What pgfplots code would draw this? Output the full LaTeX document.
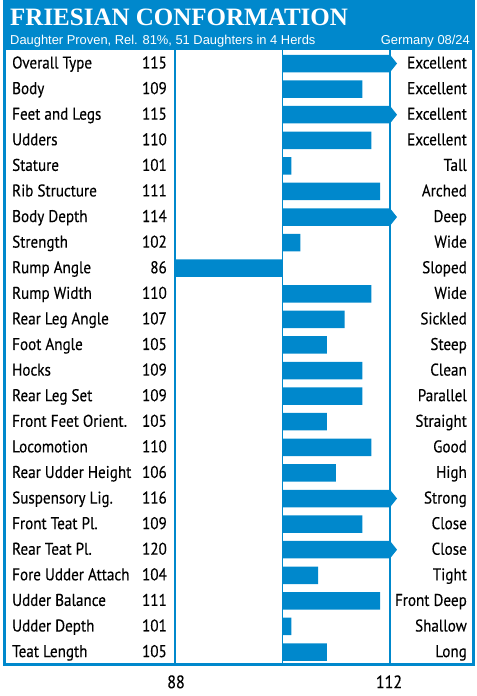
\documentclass[border=0pt]{standalone}
\usepackage{pgfplots}
\pgfplotsset{compat=1.18}
\usepackage{pgfplotstable}
\usepackage{fontspec}
\setmainfont{PT Sans}
\newfontfamily\rowfont[FakeStretch=0.89,FakeBold=0.3]{PT Sans}
\newfontfamily\titlefont{Liberation Serif}
\newfontfamily\subfont{Liberation Sans}
\definecolor{bb}{RGB}{0,136,204}
\pgfdeclareplotmark{rarrow}{%
  \pgfpathmoveto{\pgfpoint{0bp}{10bp}}%
  \pgfpathlineto{\pgfpoint{8bp}{0bp}}%
  \pgfpathlineto{\pgfpoint{0bp}{-10bp}}%
  \pgfpathclose\pgfusepathqfill}
\pgfplotstableread{
row val
1 115
2 109
3 115
4 110
5 101
6 111
7 114
8 102
9 86
10 110
11 107
12 105
13 109
14 109
15 105
16 110
17 106
18 116
19 109
20 120
21 104
22 111
23 101
24 105
}\data
\newcommand\rf{\rowfont\fontsize{17bp}{20bp}\selectfont}
\newcommand\tf{\rowfont\fontsize{18bp}{21bp}\selectfont}
\begin{document}
\begin{tikzpicture}[x=1bp,y=1bp]
\useasboundingbox (0,0) rectangle (477,-696);
\fill[bb] (3,-1.5) rectangle (475,-50);
\begin{axis}[at={(176bp,-664.8bp)}, anchor=south west, scale only axis,
  width=213bp, height=614.1bp, xmin=-12, xmax=12, ymin=0.5, ymax=24.5,
  y dir=reverse, axis line style={draw=none}, xtick={-12,12},
  xticklabels={88,112}, major tick length=0pt, ytick=\empty,
  xticklabel style={font=\tf, yshift=-7bp}]
\addplot[xbar, bar width=17.5bp, fill=bb, draw=none, bar shift=0pt]
  table[x expr=\thisrow{val}-100, y=row]{\data};
\addplot[only marks, mark=rarrow, color=bb]
  coordinates {(12,1) (12,3) (12,7) (12,18) (12,20)};
\end{axis}
\draw[bb, line width=3bp] (4.5,-1.5) rectangle (473.5,-664.5);
\draw[bb, line width=2bp] (175,-50) -- (175,-664);
\draw[bb, line width=2bp] (389.5,-50) -- (389.5,-664);
\draw[bb, line width=1.5bp] (282.5,-50) -- (282.5,-664);
\node[anchor=base west, inner sep=0, text=white, font=\titlefont\bfseries\fontsize{25bp}{28bp}\selectfont] at (10,-26) {FRIESIAN CONFORMATION};
\node[anchor=base west, inner sep=0, text=white, font=\subfont\fontsize{12.9bp}{15bp}\selectfont] at (10,-44.5) {Daughter Proven, Rel. 81\%, 51 Daughters in 4 Herds};
\node[anchor=base east, inner sep=0, text=white, font=\subfont\fontsize{12.9bp}{15bp}\selectfont] at (470,-44.5) {Germany 08/24};
\foreach \n/\v/\d [count=\i from 0] in {Overall Type/115/Excellent, Body/109/Excellent, Feet and Legs/115/Excellent, Udders/110/Excellent, Stature/101/Tall, Rib Structure/111/Arched, Body Depth/114/Deep, Strength/102/Wide, Rump Angle/86/Sloped, Rump Width/110/Wide, Rear Leg Angle/107/Sickled, Foot Angle/105/Steep, Hocks/109/Clean, Rear Leg Set/109/Parallel, Front Feet Orient./105/Straight, Locomotion/110/Good, Rear Udder Height/106/High, Suspensory Lig./116/Strong, Front Teat Pl./109/Close, Rear Teat Pl./120/Close, Fore Udder Attach/104/Tight, Udder Balance/111/Front Deep, Udder Depth/101/Shallow, Teat Length/105/Long}{
  \pgfmathsetmacro\yy{-(63.5+25.59*\i)-5}
  \node[anchor=base west, inner sep=0, font=\rf] at (12,\yy) {\n};
  \node[anchor=base east, inner sep=0, font=\rf] at (167,\yy) {\v};
  \node[anchor=base east, inner sep=0, font=\rf] at (467,\yy) {\d};
}
\end{tikzpicture}
\end{document}
